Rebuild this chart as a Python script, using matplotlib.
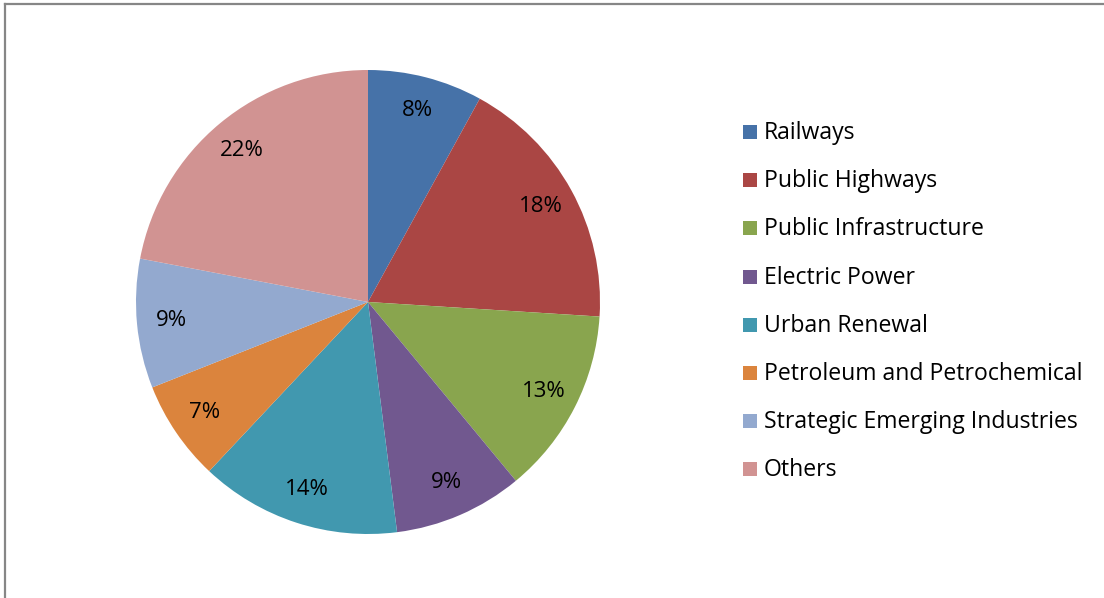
import matplotlib
matplotlib.use("Agg")
import matplotlib.pyplot as plt
from matplotlib.patches import Rectangle
from matplotlib.lines import Line2D

categories = ["Railways", "Public Highways", "Public Infrastructure", "Electric Power",
              "Urban Renewal", "Petroleum and Petrochemical",
              "Strategic Emerging Industries", "Others"]
shares = [8, 18, 13, 9, 14, 7, 9, 22]
colors = ["#4672a8", "#aa4644", "#89a54e", "#71588f",
          "#4198af", "#db843d", "#93a9cf", "#d19392"]

W, H = 1104, 598
plt.rcParams["font.family"] = ["Open Sans", "DejaVu Sans"]

fig = plt.figure(figsize=(W / 100, H / 100), dpi=100)

# pie centred at pixel (368, 302), radius 232
cx, cy, r = 368, 302, 232
ax = fig.add_axes([(cx - r) / W, (H - cy - r) / H, 2 * r / W, 2 * r / H])
wedges, texts, autotexts = ax.pie(
    shares, colors=colors, startangle=90, counterclock=False,
    autopct="%d%%", pctdistance=0.85, radius=1,
    textprops={"fontsize": 16, "color": "black"},
    wedgeprops={"linewidth": 0})
ax.set_xlim(-1, 1)
ax.set_ylim(-1, 1)
ax.set_aspect("equal")
ax.axis("off")

# legend drawn by hand
for i, (name, c) in enumerate(zip(categories, colors)):
    y = 132 + i * 48.2
    fig.add_artist(Rectangle((743 / W, 1 - (y + 7) / H), 14 / W, 14 / H,
                             transform=fig.transFigure, facecolor=c, edgecolor="none"))
    fig.text(764 / W, 1 - (y + 1) / H, name, fontsize=16.6, va="center", ha="left")

# chart frame (top and left edges visible)
fig.add_artist(Line2D([5.5 / W, 5.5 / W], [0, 1 - 3.5 / H], transform=fig.transFigure,
                      color="#868686", linewidth=1.6))
fig.add_artist(Line2D([5.5 / W, 1], [1 - 3.5 / H, 1 - 3.5 / H], transform=fig.transFigure,
                      color="#868686", linewidth=1.6))

fig.savefig("out.png", dpi=100)
